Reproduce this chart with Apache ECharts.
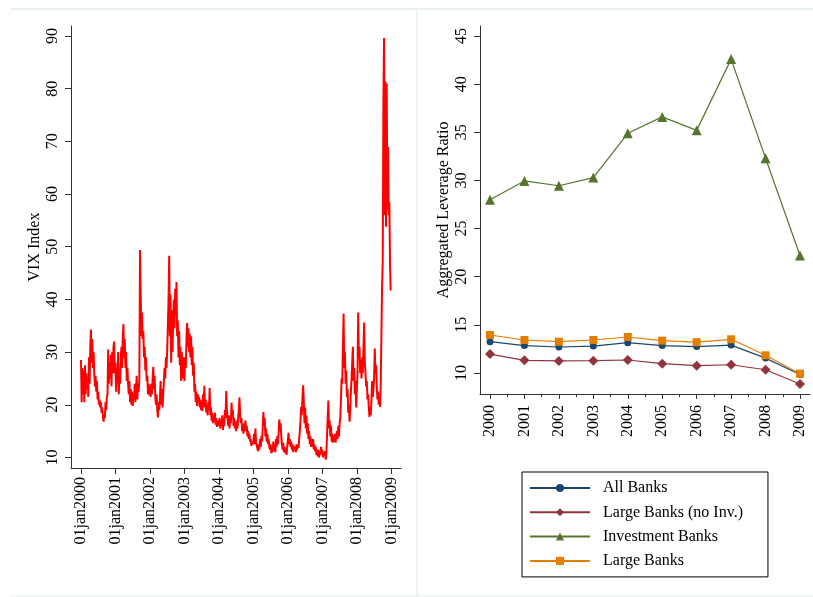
<!DOCTYPE html>
<html><head><meta charset="utf-8">
<script src="https://cdn.jsdelivr.net/npm/echarts@6/dist/echarts.min.js"></script>
<style>html,body{margin:0;padding:0;background:#fff}#c{width:813px;height:597px}</style>
</head><body><div id="c"></div>
<script>
// ---- Left panel: VIX index (weekly readings per year) ----
const vixYears = [2000, 2001, 2002, 2003, 2004, 2005, 2006, 2007, 2008];
const vix2000 = [28.5,20.5,27,22,26.5,20.5,27.5,22,26,23,25,21.5,29,24,31,34.3,28,32.5,27,30,26,23.5,25.5,22.5,24.5,21,22.5,20,21,19.5,20.5,18.5,19.5,18,16.8,18,17.5,20.5,19,21.5,22,30.5,24,28,25,29.5,23.5,30,26,31,32,26];
const vix2001 = [28,22.5,27,24,30,22,26,24,29,31,27,33,35.3,29,32.5,27,30,24.5,27,24,22,24.5,20.5,23,20,22.5,19.8,22,21,24,20.5,23,25.5,21,24,22.5,25,49.4,41,33,37.5,32.5,34,29,31,26.5,29,24.5,25.5,22,24,21.8];
const vix2002 = [23.5,21.5,24,22,25,27.2,23,25.5,21.5,20,22,19,17.6,20.5,19,21,24.5,20,23,19.5,22,24.5,27,25,29,27,30.5,35,40,48.3,33,41,28,38,30,36,40,34.5,42,37,43.3,33,36,29,34,27.5,31,24.5,30,25,29,26];
const vix2003 = [24.5,29,27,32,35.5,31,34.5,30,33.5,29,33,27.5,31,25.5,28,22.5,24,20.5,22.5,19.8,22,20.5,21.5,19.5,21,19,20.5,18.8,22,19.5,23.6,19.5,21,18.5,20,18,20.5,19,23.2,18,19.5,17,18.5,16.5,18,16.8,18.5,16.2,17.5,15.8,17,16.5];
const vix2004 = [16,17.5,15.5,17,16,18,15.2,17,16,19,17.5,22.6,19,17.5,16,18,15.5,17.5,16.5,20.4,18,19,16,17.5,15.5,16.5,15,17,15.5,17.5,19,21.4,18,16.5,17.5,15,16,14.5,16.5,15,17,15,16,14,15,13.5,14.5,13,13.5,12.2,13,12.5];
const vix2005 = [13,14.5,12.5,15.5,13,12.2,12,11.2,12.5,11.5,13.5,12,14,13,15.5,18.6,16,17.5,14,15.5,13,14.5,12.5,13.5,12,11.5,12.5,10.8,12,11,13,11.5,12.5,11,13.5,12,14,12.5,14.5,17.2,15,16.5,14,12.5,11.5,12.8,11,12,10.8,11.8,10.5,12];
const vix2006 = [12,14.7,12.5,13.5,12,13,11.5,12.5,11,12.2,11.5,12,11,12.5,11.5,12.5,11.8,13.5,15,17,19.6,18,21.5,23.7,20.5,16.5,19.5,15.5,18,14.5,16.5,13.5,15,12.5,14,12,13.5,12,13.5,11.5,12.5,11.2,12,10.5,11.5,10.2,11.5,10,11,10.5,12,10.8];
const vix2007 = [11.5,10,11,10.3,11.2,9.6,10.8,10.5,11,20.8,15.5,17,14,16,13,14.5,12.8,14,13,14.5,12.8,14,15,13.5,16,14,16.5,17.5,21,25,24,31,37.3,27,30,24,26.5,21.5,23,18.5,20,16.8,19,22.5,25,28,31,24.5,27,22,24.5,19.5];
const vix2008 = [23,26,37.5,29,31,26,28.5,25,29,26,31,35.6,28,26,23.5,24.5,21,22,19.5,17.7,19.5,18,21,24.5,21.5,23,25,30.7,26,27.5,23.5,21,22.5,20,21.5,19.6,24,33,42.4,47,76.9,89.6,56,81.4,53.8,81,57,69,56,58.5,46.8,41.7];
const vixByYear = [vix2000, vix2001, vix2002, vix2003, vix2004, vix2005, vix2006, vix2007, vix2008];
const vixTickYears = [2000, 2001, 2002, 2003, 2004, 2005, 2006, 2007, 2008, 2009];
const vixTicks = [10, 20, 30, 40, 50, 60, 70, 80, 90];

// ---- Right panel: aggregated leverage ratio ----
const bankYears = [2000, 2001, 2002, 2003, 2004, 2005, 2006, 2007, 2008, 2009];
const allBanks = [13.25, 12.85, 12.7, 12.8, 13.15, 12.85, 12.75, 12.9, 11.55, 9.85];
const largeBanksNoInv = [11.97, 11.32, 11.25, 11.28, 11.35, 10.97, 10.76, 10.86, 10.34, 8.86];
const investmentBanks = [28.0, 29.95, 29.45, 30.3, 34.9, 36.6, 35.2, 42.6, 32.3, 22.2];
const largeBanks = [13.95, 13.43, 13.25, 13.43, 13.74, 13.36, 13.2, 13.5, 11.84, 9.93];
const levTicks = [10, 15, 20, 25, 30, 35, 40, 45];
const halfYearTicks = [2000.5, 2001.5, 2002.5, 2003.5, 2004.5, 2005.5, 2006.5, 2007.5, 2008.5];

const FONT = 'Liberation Serif';
const AX = '#333';

const vixData = [];
vixYears.forEach((y, k) => {
  const arr = vixByYear[k];
  arr.forEach((v, i) => vixData.push([y + i / arr.length, v]));
});
const pairs = arr => bankYears.map((y, i) => [y, arr[i]]);

const txt = {fontFamily: FONT, fontSize: 16, color: '#000'};

const chart = echarts.init(document.getElementById('c'), null, {renderer: 'canvas'});
chart.setOption({
  animation: false,
  backgroundColor: '#fff',
  graphic: [
    {type: 'line', shape: {x1: 11, y1: 9, x2: 813, y2: 9}, style: {stroke: '#e8eff2', lineWidth: 2}, silent: true},
    {type: 'line', shape: {x1: 417, y1: 9, x2: 417, y2: 597}, style: {stroke: '#e8eff2', lineWidth: 1.5}, silent: true},
    {type: 'line', shape: {x1: 10, y1: 596, x2: 813, y2: 596}, style: {stroke: '#eef3f4', lineWidth: 1.5}, silent: true}
  ],
  grid: [
    {left: 71, top: 26, width: 330, height: 442},
    {left: 480, top: 26, width: 330, height: 368}
  ],
  xAxis: [
    {
      gridIndex: 0, type: 'value', min: 1999.71, max: 2009.28,
      axisLine: {onZero: false, lineStyle: {color: AX, width: 1}},
      axisTick: {customValues: vixTickYears, length: 6, lineStyle: {color: AX}},
      axisLabel: Object.assign({customValues: vixTickYears, rotate: 90, margin: 9,
        formatter: v => '01jan' + Math.round(v)}, txt),
      splitLine: {show: false}
    },
    {
      gridIndex: 1, type: 'value', min: 1999.71, max: 2009.29,
      axisLine: {onZero: false, lineStyle: {color: AX, width: 1}},
      axisTick: {customValues: bankYears, length: 5, lineStyle: {color: AX}},
      axisLabel: Object.assign({customValues: bankYears, rotate: 90, margin: 11,
        formatter: v => String(Math.round(v))}, txt),
      splitLine: {show: false}
    },
    {
      gridIndex: 1, type: 'value', position: 'bottom', min: 1999.71, max: 2009.29,
      axisLine: {show: false, onZero: false},
      axisTick: {customValues: halfYearTicks, length: 3, lineStyle: {color: AX}},
      axisLabel: {show: false},
      splitLine: {show: false}
    }
  ],
  yAxis: [
    {
      gridIndex: 0, type: 'value', min: 8.0, max: 91.9,
      name: 'VIX Index', nameLocation: 'middle', nameGap: 28,
      nameTextStyle: txt,
      axisLine: {show: true, lineStyle: {color: AX, width: 1}},
      axisTick: {show: true, customValues: vixTicks, length: 6, lineStyle: {color: AX}},
      axisLabel: Object.assign({customValues: vixTicks, rotate: 90, margin: 10}, txt),
      splitLine: {show: false}
    },
    {
      gridIndex: 1, type: 'value', min: 7.82, max: 46.04,
      name: 'Aggregated Leverage Ratio', nameLocation: 'middle', nameGap: 28,
      nameTextStyle: txt,
      axisLine: {show: true, lineStyle: {color: AX, width: 1}},
      axisTick: {show: true, customValues: levTicks, length: 6, lineStyle: {color: AX}},
      axisLabel: Object.assign({customValues: levTicks, rotate: 90, margin: 10}, txt),
      splitLine: {show: false}
    }
  ],
  legend: {
    data: ['All Banks', 'Large Banks (no Inv.)', 'Investment Banks', 'Large Banks'],
    orient: 'vertical', left: 522, top: 472,
    padding: [8, 25, 8, 7],
    itemWidth: 60, itemHeight: 10, itemGap: 8.3,
    borderColor: '#000', borderWidth: 1,
    textStyle: {fontFamily: FONT, fontSize: 16, color: '#000', padding: [0, 0, 0, 8]}
  },
  series: [
    {
      type: 'line', name: 'VIX', xAxisIndex: 0, yAxisIndex: 0, data: vixData,
      showSymbol: false, symbol: 'none', lineStyle: {color: '#ff0000', width: 2},
      itemStyle: {color: '#ff0000'}
    },
    {
      type: 'line', name: 'All Banks', xAxisIndex: 1, yAxisIndex: 1, data: pairs(allBanks),
      symbol: 'circle', symbolSize: 7,
      lineStyle: {color: '#1a476f', width: 1.2}, itemStyle: {color: '#1a476f'}
    },
    {
      type: 'line', name: 'Large Banks (no Inv.)', xAxisIndex: 1, yAxisIndex: 1, data: pairs(largeBanksNoInv),
      symbol: 'diamond', symbolSize: 10,
      lineStyle: {color: '#90353b', width: 1.2}, itemStyle: {color: '#90353b'}
    },
    {
      type: 'line', name: 'Investment Banks', xAxisIndex: 1, yAxisIndex: 1, data: pairs(investmentBanks),
      symbol: 'triangle', symbolSize: 10,
      lineStyle: {color: '#55752f', width: 1.2}, itemStyle: {color: '#55752f'}
    },
    {
      type: 'line', name: 'Large Banks', xAxisIndex: 1, yAxisIndex: 1, data: pairs(largeBanks),
      symbol: 'rect', symbolSize: 8,
      lineStyle: {color: '#e37e00', width: 1.2}, itemStyle: {color: '#e37e00'}
    }
  ]
});
</script></body></html>
